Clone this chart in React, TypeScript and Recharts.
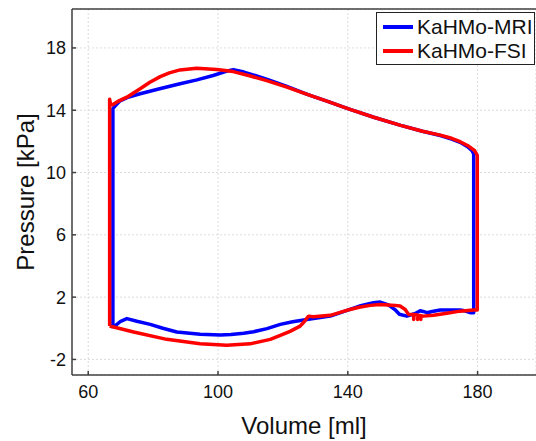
import React from 'react';
import { LineChart, Line, XAxis, YAxis, CartesianGrid, ReferenceLine, Label } from 'recharts';

const seriesNames = ['KaHMo-MRI', 'KaHMo-FSI'];
const seriesColors = ['#0000ff', '#ff0000'];
const xTicks = [60, 100, 140, 180];
const yTicks = [-2, 2, 6, 10, 14, 18];

const mriVolume = [
  67.6, 67.6, 68.2, 69.8, 72.5, 76, 82, 88.3, 93.5, 98.5, 102.5, 104.7, 108, 115.4, 121, 127.7, 134, 140, 148, 156.3,
  163, 168.5, 172, 174.6, 176.9, 178.3, 178.8, 178.8, 177.7, 176, 174.6, 168.5, 166, 164.4, 163.2, 162.3, 160.8, 158.2,
  155.9, 154.5, 152.5, 150, 147.9, 144, 140.7, 134.6, 127.4, 123, 119.2, 115.1, 111, 107.9, 104, 100.7, 94.5, 87.3, 83,
  79.1, 75, 71.9, 70, 67.6,
];
const mriPressure = [
  0.0, 14.1, 14.25, 14.6, 14.85, 15.06, 15.38, 15.7, 15.95, 16.23, 16.5, 16.61, 16.45, 15.97, 15.55, 15.0, 14.55, 14.1,
  13.55, 13.03, 12.65, 12.38, 12.15, 11.94, 11.66, 11.4, 11.2, 1.0, 1.0, 1.12, 1.17, 1.17, 1.08, 1.0, 1.08, 1.12, 0.95,
  0.78, 0.9, 1.2, 1.5, 1.68, 1.64, 1.45, 1.21, 0.78, 0.57, 0.42, 0.25, -0.02, -0.22, -0.32, -0.4, -0.43, -0.39, -0.24,
  0.0, 0.25, 0.45, 0.62, 0.45, 0.04,
];

const fsiVolume = [
  66.6, 66.6, 66.9, 67.5, 69, 71.9, 76, 79, 82.2, 85, 88.3, 93.4, 99.6, 104.7, 110, 115, 121, 127.7, 134, 140, 148,
  156.3, 163, 168.5, 172, 174.6, 177.2, 179.1, 179.9, 179.9, 178.7, 174.6, 170.5, 166.4, 163.3, 162.5, 162.5, 162.5,
  161.5, 161.5, 161.5, 160.3, 160.3, 160.3, 158.7, 157.7, 156.1, 154.6, 150, 146.9, 143.5, 140.7, 134.6, 129.4, 127.9,
  126.5, 125.3, 122.2, 119.2, 116.1, 109.9, 102.7, 94.5, 84.2, 74, 66.6,
];
const fsiPressure = [
  0.15, 14.7, 14.38, 14.35, 14.55, 14.84, 15.38, 15.8, 16.16, 16.4, 16.59, 16.7, 16.61, 16.48, 16.2, 15.9, 15.5, 15.0,
  14.55, 14.1, 13.55, 13.03, 12.65, 12.4, 12.2, 11.98, 11.7, 11.4, 11.1, 1.17, 1.17, 1.1, 0.96, 0.83, 0.78, 0.8, 0.57,
  0.82, 0.84, 0.57, 0.86, 0.88, 0.57, 0.89, 0.89, 1.21, 1.43, 1.47, 1.53, 1.47, 1.35, 1.21, 0.83, 0.74, 0.78, 0.4, 0.14,
  -0.2, -0.45, -0.71, -1.0, -1.09, -1.0, -0.71, -0.24, 0.15,
];

const toRows = (vs: number[], ps: number[]) => vs.map((v, i) => ({ v, p: ps[i] }));
const seriesData = [toRows(mriVolume, mriPressure), toRows(fsiVolume, fsiPressure)];

const FONT = '"Liberation Sans", Arial, sans-serif';
const AXIS = '#404040';

const YLabel = (props: any) => {
  const { viewBox } = props;
  const cx = viewBox.x + 26;
  const cy = viewBox.y + viewBox.height / 2;
  return (
    <text
      x={cx}
      y={cy}
      transform={`rotate(-90 ${cx} ${cy})`}
      textAnchor="middle"
      fontSize={24}
      fontFamily={FONT}
      fill="#111"
      dominantBaseline="auto"
      dy={8}
    >
      Pressure [kPa]
    </text>
  );
};

export default function App() {
  return (
    <div style={{ position: 'absolute', left: 0, top: 0, width: 536, height: 441, background: '#fff' }}>
      <LineChart width={536} height={441} margin={{ top: 9, right: 0, left: 0, bottom: 0 }}>
        <CartesianGrid stroke="#dcdcdc" strokeDasharray="2 2" />
        <XAxis
          dataKey="v"
          type="number"
          domain={[55, 198]}
          ticks={xTicks}
          height={66}
          tickSize={-4}
          tickMargin={14}
          stroke={AXIS}
          strokeWidth={1.5}
          tick={{ fill: '#111', fontSize: 18, fontFamily: FONT }}
          allowDataOverflow
        >
          <Label
            value="Volume [ml]"
            position="insideBottom"
            offset={7}
            style={{ fontSize: 24, fontFamily: FONT, fill: '#111' }}
          />
        </XAxis>
        <YAxis
          type="number"
          domain={[-3, 20.5]}
          ticks={yTicks}
          width={72}
          tickSize={-4}
          tickMargin={10}
          stroke={AXIS}
          strokeWidth={1.5}
          tick={{ fill: '#111', fontSize: 18, fontFamily: FONT }}
          allowDataOverflow
        >
          <Label content={YLabel} />
        </YAxis>
        <ReferenceLine y={20.5} stroke={AXIS} strokeWidth={1.5} />
        {seriesData.map((d, i) => (
          <Line
            key={seriesNames[i]}
            data={d}
            dataKey="p"
            type="linear"
            stroke={seriesColors[i]}
            strokeWidth={3.5}
            strokeLinejoin="round"
            dot={false}
            activeDot={false}
            isAnimationActive={false}
          />
        ))}
      </LineChart>
      <div
        style={{
          position: 'absolute',
          left: 376,
          top: 12,
          width: 157,
          height: 51,
          border: '1px solid #222',
          background: '#fff',
          fontFamily: FONT,
          fontSize: 21,
          color: '#111',
        }}
      >
        {seriesNames.map((n, i) => (
          <div
            key={n}
            style={{ position: 'absolute', left: 0, top: 2 + i * 24, height: 24, display: 'flex', alignItems: 'center' }}
          >
            <span
              style={{ display: 'inline-block', width: 30, height: 3.5, background: seriesColors[i], marginLeft: 6, marginRight: 4 }}
            />
            <span style={{ lineHeight: '24px', whiteSpace: 'nowrap' }}>{n}</span>
          </div>
        ))}
      </div>
    </div>
  );
}
